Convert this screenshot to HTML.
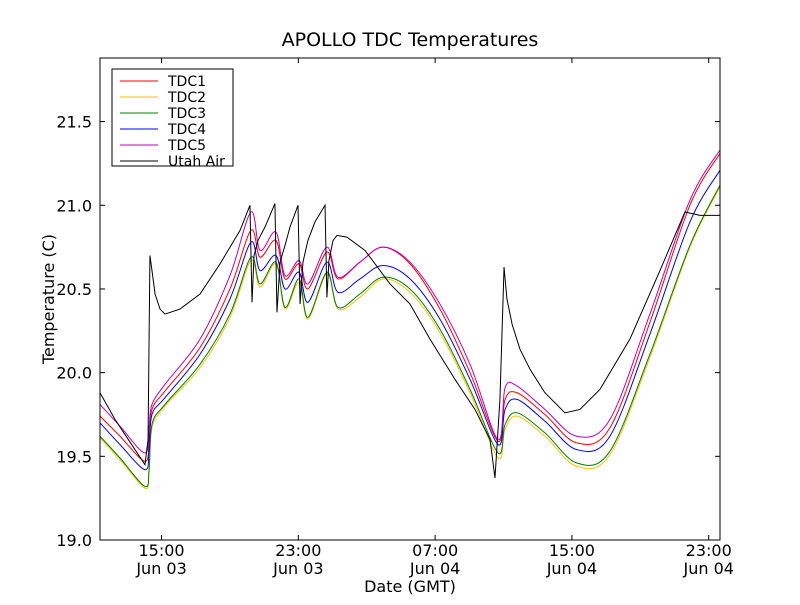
<!DOCTYPE html>
<html><head><meta charset="utf-8"><style>body{margin:0;background:#fff}svg{font-family:"DejaVu Sans","Liberation Sans",sans-serif}</style></head>
<body>
<svg id="c" width="800" height="600"></svg>
<script>
const tdcHours=[11.40,12.57,14.03,14.27,14.44,15.20,17.25,19.00,20.23,20.76,21.69,22.22,23.04,23.56,24.67,25.32,26.60,27.95,29.53,31.28,33.04,34.68,35.09,35.79,37.42,39.29,41.22,43.56,45.90,47.66];
const tdc1=[19.74,19.62,19.47,19.60,19.78,19.89,20.15,20.50,20.85,20.69,20.79,20.56,20.65,20.50,20.72,20.56,20.66,20.75,20.65,20.38,20.00,19.59,19.84,19.88,19.75,19.58,19.67,20.30,21.00,21.31];
const tdc2=[19.61,19.48,19.31,19.40,19.67,19.80,20.03,20.33,20.67,20.51,20.65,20.38,20.54,20.32,20.59,20.38,20.45,20.56,20.48,20.24,19.88,19.49,19.66,19.74,19.62,19.44,19.51,20.09,20.75,21.11];
const tdc3=[19.62,19.49,19.32,19.42,19.69,19.81,20.05,20.35,20.69,20.53,20.66,20.39,20.56,20.33,20.60,20.39,20.47,20.57,20.50,20.26,19.90,19.52,19.69,19.76,19.64,19.46,19.53,20.11,20.76,21.12];
const tdc4=[19.70,19.57,19.42,19.54,19.75,19.85,20.11,20.44,20.78,20.61,20.70,20.50,20.60,20.42,20.66,20.48,20.56,20.64,20.56,20.32,19.96,19.57,19.78,19.84,19.71,19.54,19.62,20.23,20.90,21.21];
const tdc5=[19.81,19.68,19.52,19.68,19.81,19.93,20.20,20.58,20.96,20.73,20.84,20.58,20.67,20.53,20.75,20.57,20.66,20.75,20.66,20.41,20.05,19.60,19.91,19.92,19.78,19.62,19.72,20.35,21.03,21.33];
const airHours=[11.40,12.28,14.03,14.21,14.32,14.44,14.62,14.91,15.20,16.08,17.25,18.42,19.59,20.17,20.29,20.41,20.64,21.05,21.63,21.75,21.93,22.22,22.51,22.98,23.10,23.27,23.56,23.97,24.56,24.67,24.79,25.03,25.26,25.84,26.90,28.36,29.53,30.70,32.16,33.33,34.21,34.50,34.79,35.03,35.20,35.50,35.96,36.55,37.42,38.59,39.47,40.64,42.39,44.15,45.61,46.49,47.66];
const airTemp=[19.88,19.72,19.45,19.60,20.70,20.61,20.47,20.38,20.35,20.38,20.47,20.65,20.85,21.00,20.42,20.70,20.79,20.87,21.01,20.36,20.66,20.76,20.87,21.00,20.41,20.66,20.79,20.90,21.00,20.45,20.67,20.79,20.82,20.81,20.73,20.53,20.41,20.20,19.96,19.78,19.60,19.37,19.84,20.63,20.44,20.29,20.14,20.02,19.88,19.76,19.78,19.90,20.20,20.61,20.96,20.94,20.94];
const yTicks=[19.0,19.5,20.0,20.5,21.0,21.5];
const xTicks=[15,23,31,39,47];
const xTickTime=["15:00","23:00","07:00","15:00","23:00"];
const xTickDate=["Jun 03","Jun 03","Jun 04","Jun 04","Jun 04"];
const seriesNames=["TDC1","TDC2","TDC3","TDC4","TDC5","Utah Air"];
const seriesColors=["#ff0000","#ffbf00","#008000","#0000ff","#bf00bf","#000000"];

const L=100,R=720,T=58,B=540,X0=11.4,X1=47.66,Y0=19.0,Y1=21.88;
const sx=h=>L+(h-X0)/(X1-X0)*(R-L);
const sy=v=>B-(v-Y0)/(Y1-Y0)*(B-T);
const NS="http://www.w3.org/2000/svg",svg=document.getElementById('c');
function mk(t,a,p){const e=document.createElementNS(NS,t);for(const k in a)e.setAttribute(k,a[k]);(p||svg).appendChild(e);return e;}
function smooth(xs,ys){let pts=xs.map((x,i)=>[sx(x),sy(ys[i])]);let d="M"+pts[0];for(let i=0;i<pts.length-1;i++){const p0=pts[i-1]||pts[i],p1=pts[i],p2=pts[i+1],p3=pts[i+2]||p2;const c1=[p1[0]+(p2[0]-p0[0])/6,p1[1]+(p2[1]-p0[1])/6],c2=[p2[0]-(p3[0]-p1[0])/6,p2[1]-(p3[1]-p1[1])/6];d+="C"+c1+" "+c2+" "+p2;}return d;}
let t=mk('text',{x:410,y:46,'text-anchor':'middle','font-size':19});t.textContent="APOLLO TDC Temperatures";

const clip=mk('clipPath',{id:'cp'});mk('rect',{x:L,y:T,width:R-L,height:B-T},clip);
const plot=mk('g',{'clip-path':'url(#cp)'});

const tdcs=[tdc1,tdc2,tdc3,tdc4,tdc5];
[1,2,0,3,4].forEach(i=>{const p=mk('path',{d:smooth(tdcHours,tdcs[i]),fill:'none',stroke:seriesColors[i],'stroke-width':1},plot);
});
const ap=mk('path',{d:"M"+airHours.map((h,i)=>sx(h)+","+sy(airTemp[i])).join("L"),fill:'none',stroke:'#000','stroke-width':1},plot);

const fr=mk('rect',{x:L,y:T,width:R-L,height:B-T,fill:'none',stroke:'#000','stroke-width':1});

yTicks.forEach(v=>{const y=sy(v);mk('line',{x1:L,x2:L+5,y1:y,y2:y,stroke:'#000'});mk('line',{x1:R,x2:R-5,y1:y,y2:y,stroke:'#000'});
const e=mk('text',{x:L-8,y:y+6,'text-anchor':'end','font-size':16});e.textContent=v.toFixed(1);
});
xTicks.forEach((h,i)=>{const x=sx(h);mk('line',{x1:x,x2:x,y1:B,y2:B-5,stroke:'#000'});mk('line',{x1:x,x2:x,y1:T,y2:T+5,stroke:'#000'});
const e=mk('text',{x:x,y:556,'text-anchor':'middle','font-size':16});e.textContent=xTickTime[i];

const d=mk('text',{x:x,y:574,'text-anchor':'middle','font-size':16});d.textContent=xTickDate[i];
});
t=mk('text',{x:410,y:592,'text-anchor':'middle','font-size':16});t.textContent="Date (GMT)";

t=mk('text',{x:54,y:299,'text-anchor':'middle','font-size':16,transform:'rotate(-90 54 299)'});t.textContent="Temperature (C)";

const lg=mk('g',{});
mk('rect',{x:112,y:69,width:121,height:97,fill:'#fff',stroke:'#000'},lg);
seriesNames.forEach((n,i)=>{const y=81+i*16;const en=mk('g',{},lg);

mk('line',{x1:120,x2:158,y1:y,y2:y,stroke:seriesColors[i]},en);
const e=mk('text',{x:168,y:y+5,'font-size':14},en);e.textContent=n;});
</script>
</body></html>
